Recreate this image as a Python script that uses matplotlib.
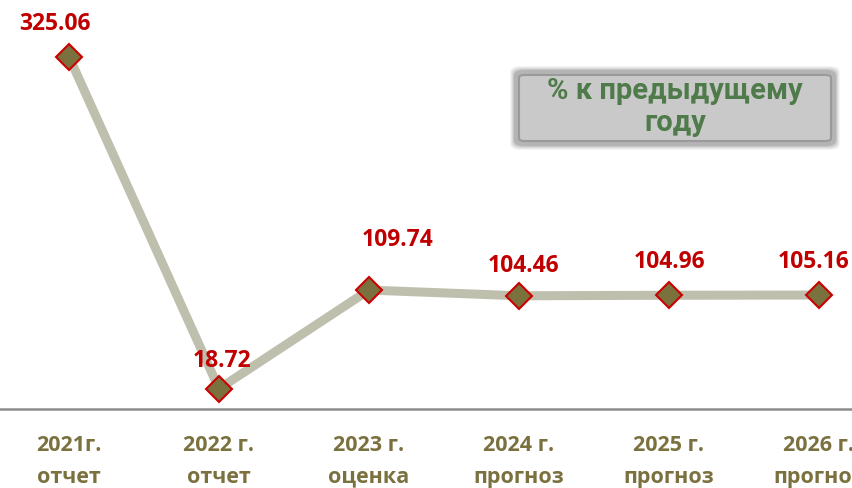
import matplotlib
matplotlib.use("Agg")
import matplotlib.pyplot as plt
from matplotlib.patches import FancyBboxPatch

categories = ["2021г.\nотчет", "2022 г.\nотчет", "2023 г.\nоценка",
              "2024 г.\nпрогноз", "2025 г.\nпрогноз", "2026 г.\nпрогноз"]
values = [325.06, 18.72, 109.74, 104.46, 104.96, 105.16]
value_labels = ["325.06", "18.72", "109.74", "104.46", "104.96", "105.16"]
legend_text = "% к предыдущему\nгоду"

W, H = 853, 488
fig = plt.figure(figsize=(W / 100, H / 100), dpi=100)

def fx(px):
    return px / W

def fy(py):
    return 1 - py / H

ax_left = -6
ax_w = 900
ax_top = 0
ax_bottom = 409
ax = fig.add_axes([fx(ax_left), fy(ax_bottom), ax_w / W, (ax_bottom - ax_top) / H])
ax.set_xlim(-0.5, len(categories) - 0.5)
ax.set_ylim(0, 377.4)
ax.patch.set_alpha(0)
for s in ["top", "right", "left"]:
    ax.spines[s].set_visible(False)
ax.spines["bottom"].set_color("#8c8c8c")
ax.spines["bottom"].set_linewidth(1.8)
ax.set_yticks([])

x = list(range(len(categories)))
ax.plot(x, values, color="#bfbfae", lw=6.5, solid_capstyle="butt", zorder=2)
ax.plot(x, values, linestyle="none", marker="D", markersize=13,
        markerfacecolor="#7a713f", markeredgecolor="#cc0000",
        markeredgewidth=1.5, zorder=3)

FONT = ["Open Sans", "DejaVu Sans"]
ax.set_xticks(x)
ax.set_xticklabels(categories, fontsize=15.5, fontweight="bold", color="#7a713f",
                   family=FONT, linespacing=1.65)
ax.tick_params(axis="x", length=0, pad=19)

offsets = [(-14, 33), (3, 28), (29, 50), (5, 30), (1, 33), (-5, 33)]
for xi, v, lab, (dx, dy) in zip(x, values, value_labels, offsets):
    ax.annotate(lab, (xi, v), xytext=(dx * 0.72, dy * 0.72), textcoords="offset points",
                ha="center", va="center", fontsize=16.5, fontweight="bold",
                color="#c00000", family=FONT, zorder=4)

bx0, by0, bx1, by1 = 516, 72, 834, 144
for i, a in enumerate([0.06, 0.08, 0.10, 0.13, 0.16]):
    g = 6 - i
    p = FancyBboxPatch((fx(bx0 - g), fy(by1 + g)), fx(bx1 - bx0 + 2 * g), (by1 - by0 + 2 * g) / H,
                       boxstyle="round,pad=0,rounding_size=0.012",
                       transform=fig.transFigure, facecolor="#555555", edgecolor="none",
                       alpha=a, zorder=1)
    fig.patches.append(p)
p = FancyBboxPatch((fx(bx0 + 3), fy(by1 - 3)), fx(bx1 - bx0 - 6), (by1 - by0 - 6) / H,
                   boxstyle="round,pad=0,rounding_size=0.006",
                   transform=fig.transFigure, facecolor="#c9c9c9", edgecolor="#9a9a9a",
                   linewidth=1.5, zorder=2)
fig.patches.append(p)
fig.text(fx(675), fy(107), legend_text, ha="center", va="center", fontsize=21,
         fontweight="bold", color="#4f7a4a", family=["Roboto", "DejaVu Sans"],
         linespacing=1.15)

fig.savefig("out.png", dpi=100)
